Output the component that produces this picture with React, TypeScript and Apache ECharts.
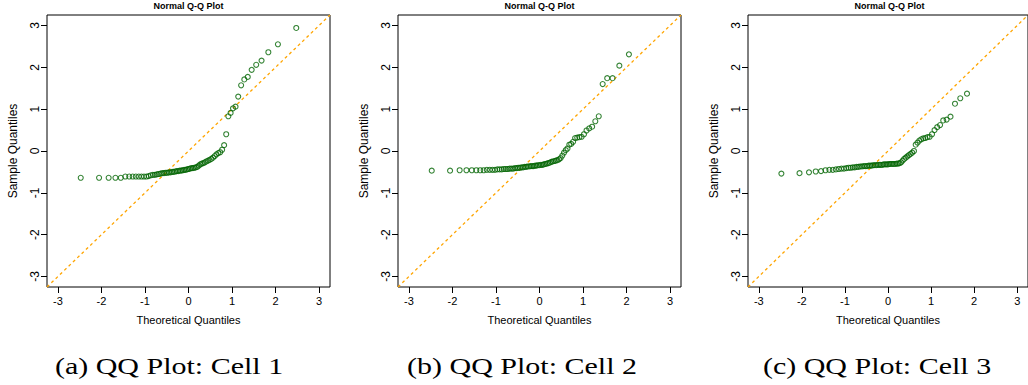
import React, { useEffect, useRef } from "react";
import * as echarts from "echarts";

const theoretical = [
  -2.475, -2.054, -1.834, -1.678, -1.555, -1.451, -1.361, -1.282, -1.209, -1.142,
  -1.08, -1.022, -0.967, -0.915, -0.866, -0.818, -0.772, -0.728, -0.685, -0.643,
  -0.603, -0.563, -0.524, -0.486, -0.449, -0.412, -0.376, -0.341, -0.305, -0.271,
  -0.236, -0.202, -0.168, -0.134, -0.1, -0.067, -0.033, 0, 0.033, 0.067,
  0.1, 0.134, 0.168, 0.202, 0.236, 0.271, 0.305, 0.341, 0.376, 0.412,
  0.449, 0.486, 0.524, 0.563, 0.603, 0.643, 0.685, 0.728, 0.772, 0.818,
  0.866, 0.915, 0.967, 1.022, 1.08, 1.142, 1.209, 1.282, 1.361, 1.451,
  1.555, 1.678, 1.834, 2.054, 2.475,
];

const cell1 = [
  -0.64, -0.64, -0.64, -0.64, -0.64, -0.61, -0.61, -0.61, -0.61, -0.61,
  -0.61, -0.61, -0.61, -0.6, -0.58, -0.57, -0.57, -0.56, -0.55, -0.54,
  -0.53, -0.53, -0.52, -0.52, -0.51, -0.51, -0.5, -0.5, -0.49, -0.48,
  -0.48, -0.47, -0.47, -0.46, -0.45, -0.45, -0.44, -0.43, -0.42, -0.41,
  -0.41, -0.4, -0.39, -0.38, -0.35, -0.32, -0.3, -0.29, -0.27, -0.25,
  -0.23, -0.21, -0.19, -0.16, -0.12, -0.08, -0.05, -0.03, 0.03, 0.14,
  0.4, 0.83, 0.91, 1.02, 1.06, 1.3, 1.57, 1.71, 1.77, 1.94,
  2.06, 2.16, 2.36, 2.55, 2.94,
];

const cell2 = [
  -0.47, -0.47, -0.46, -0.46, -0.46, -0.46, -0.46, -0.46, -0.45, -0.45,
  -0.45, -0.45, -0.44, -0.44, -0.44, -0.43, -0.43, -0.43, -0.42, -0.42,
  -0.42, -0.41, -0.41, -0.4, -0.4, -0.39, -0.39, -0.38, -0.38, -0.37,
  -0.37, -0.36, -0.36, -0.36, -0.35, -0.35, -0.34, -0.34, -0.33, -0.33,
  -0.32, -0.31, -0.3, -0.29, -0.28, -0.26, -0.25, -0.24, -0.23, -0.22,
  -0.2, -0.17, -0.11, -0.04, 0.02, 0.06, 0.15, 0.17, 0.22, 0.31,
  0.32, 0.33, 0.34, 0.4, 0.49, 0.54, 0.58, 0.71, 0.83, 1.6,
  1.74, 1.74, 2.04, 2.31,
];

const cell3 = [
  -0.54, -0.53, -0.51, -0.49, -0.48, -0.46, -0.45, -0.45, -0.44, -0.43,
  -0.42, -0.42, -0.41, -0.4, -0.4, -0.39, -0.39, -0.38, -0.38, -0.37,
  -0.37, -0.36, -0.36, -0.36, -0.35, -0.35, -0.35, -0.34, -0.34, -0.34,
  -0.33, -0.33, -0.33, -0.33, -0.32, -0.32, -0.32, -0.32, -0.31, -0.31,
  -0.31, -0.31, -0.31, -0.3, -0.3, -0.29, -0.27, -0.23, -0.19, -0.16,
  -0.13, -0.1, -0.07, -0.04, 0.0, 0.15, 0.2, 0.25, 0.28, 0.3,
  0.31, 0.33, 0.34, 0.4, 0.5, 0.57, 0.62, 0.73, 0.75, 0.82,
  1.13, 1.26, 1.37,
];

const cells = [cell1, cell2, cell3];
const captions = ["(a) QQ Plot: Cell 1", "(b) QQ Plot: Cell 2", "(c) QQ Plot: Cell 3"];
const tickValues = [-3, -2, -1, 0, 1, 2, 3];
const axisRange = [-3.25, 3.25];
const refLine = [-3.25, 3.25];
const plotTitle = "Normal Q-Q Plot";
const xName = "Theoretical Quantiles";
const yName = "Sample Quantiles";

const gridLefts = [47, 398, 748];
const gridWidth = 283;
const gridTop = 15;
const gridHeight = 272;
const captionCenters = [169, 522, 877];

export default function App() {
  const ref = useRef<HTMLDivElement>(null);
  useEffect(() => {
    document.body.style.margin = "0";
    if (!ref.current) return;
    const chart = echarts.init(ref.current, undefined, { renderer: "svg" });
    const labelFont = { fontFamily: "Liberation Sans", fontSize: 11, color: "#000" };
    const grids = gridLefts.map((left) => ({
      left,
      top: gridTop,
      width: gridWidth,
      height: gridHeight,
      show: true,
      borderColor: "#000",
      borderWidth: 1,
      backgroundColor: "transparent",
    }));
    const xAxes = gridLefts.map((_, i) => ({
      type: "value",
      gridIndex: i,
      min: axisRange[0],
      max: axisRange[1],
      name: xName,
      nameLocation: "middle",
      nameGap: 27,
      nameTextStyle: { ...labelFont },
      axisLine: { show: false, onZero: false },
      splitLine: { show: false },
      axisTick: { show: true, inside: false, length: 6, customValues: tickValues, lineStyle: { color: "#000" } },
      axisLabel: { show: true, margin: 8, customValues: tickValues, ...labelFont },
    }));
    const yAxes = gridLefts.map((_, i) => ({
      type: "value",
      gridIndex: i,
      min: axisRange[0],
      max: axisRange[1],
      name: yName,
      nameLocation: "middle",
      nameGap: 28,
      nameRotate: 90,
      nameTextStyle: { ...labelFont, fontSize: 12 },
      axisLine: { show: false, onZero: false },
      splitLine: { show: false },
      axisTick: { show: true, inside: false, length: 6, customValues: tickValues, lineStyle: { color: "#000" } },
      axisLabel: { show: true, margin: 6, rotate: 90, customValues: tickValues, ...labelFont, fontSize: 12 },
    }));
    const series: any[] = [];
    cells.forEach((cell, i) => {
      series.push({
        type: "line",
        xAxisIndex: i,
        yAxisIndex: i,
        data: [
          [refLine[0], refLine[0]],
          [refLine[1], refLine[1]],
        ],
        symbol: "none",
        lineStyle: { color: "#FFA500", width: 1.3, type: [3, 3] },
        z: 1,
        silent: true,
      });
      series.push({
        type: "scatter",
        xAxisIndex: i,
        yAxisIndex: i,
        data: cell.map((y, k) => [theoretical[k], y]),
        symbol: "circle",
        symbolSize: 5,
        itemStyle: { color: "rgba(0,0,0,0)", borderColor: "#006400", borderWidth: 1.1 },
        z: 2,
        silent: true,
      });
    });
    const graphics: any[] = [];
    gridLefts.forEach((left, i) => {
      graphics.push({
        type: "text",
        x: left + gridWidth / 2,
        y: 6,
        style: {
          text: plotTitle,
          fontFamily: "Liberation Sans",
          fontWeight: "bold",
          fontSize: 9,
          fill: "#000",
          align: "center",
          verticalAlign: "middle",
        },
      });
      graphics.push({
        type: "text",
        x: captionCenters[i],
        y: 366,
        scaleX: 1.25,
        style: {
          text: captions[i],
          fontFamily: "Liberation Serif",
          fontSize: 24,
          fill: "#000",
          align: "center",
          verticalAlign: "middle",
        },
      });
    });
    chart.setOption({
      animation: false,
      backgroundColor: "#fff",
      grid: grids,
      xAxis: xAxes,
      yAxis: yAxes,
      series,
      graphic: graphics,
    });
    return () => chart.dispose();
  }, []);
  return <div ref={ref} style={{ width: 1028, height: 385 }} />;
}
